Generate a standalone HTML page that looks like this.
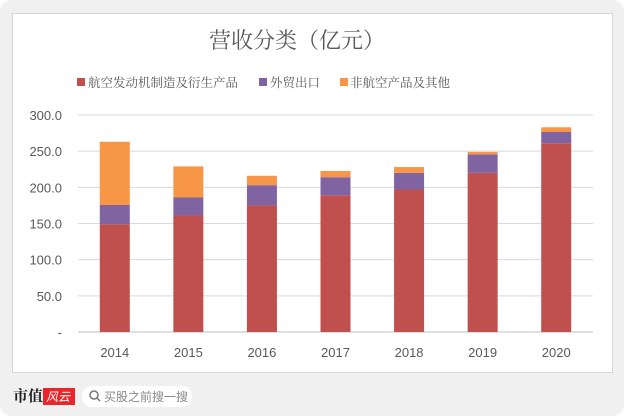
<!DOCTYPE html>
<html><head><meta charset="utf-8"><style>
body{margin:0;width:624px;height:416px;background:#fff;font-family:"Liberation Sans","Noto Sans CJK SC",sans-serif;overflow:hidden}
#bg{position:absolute;left:0;top:0;width:624px;height:416px;background:#f0f0f0;border-radius:12px}
#panel{position:absolute;left:12px;top:13px;width:599px;height:358px;background:#fff;border:1px solid #d6d6d6}
svg{position:absolute;left:0;top:0}
</style></head><body>
<div id="bg"></div>
<div id="panel"></div>
<svg id="chart" width="624" height="416">
<text x="297" y="48" text-anchor="middle" font-size="22" fill="#595959" font-family="'Noto Serif CJK SC',serif">营收分类（亿元）</text>
<g font-family="'Noto Serif CJK SC',serif" font-size="12.5" fill="#595959">
<rect x="77" y="78" width="8" height="8" fill="#c0504d"/>
<text x="88" y="87">航空发动机制造及衍生产品</text>
<rect x="259" y="78" width="8" height="8" fill="#8064a2"/>
<text x="270" y="87">外贸出口</text>
<rect x="340" y="78" width="8" height="8" fill="#f79646"/>
<text x="350" y="87">非航空产品及其他</text>
</g>
<g id="grid"></g><g id="bars"></g><g id="labels"></g>
<g>
<text x="13" y="401" font-size="15" font-weight="bold" fill="#222" font-family="'Noto Serif CJK SC',serif">市值</text>
<rect x="43" y="388" width="32" height="17" fill="#e8262b"/>
<text x="46" y="401" font-size="12" fill="#fff" font-style="italic">风云</text>
<rect x="82" y="386" width="110" height="21" rx="10" fill="#fff"/>
<circle cx="94" cy="395" r="4" fill="none" stroke="#777" stroke-width="1.5"/>
<line x1="97" y1="398" x2="100" y2="401" stroke="#777" stroke-width="1.5"/>
<text x="104" y="401" font-size="12" fill="#888">买股之前搜一搜</text>
</g>
</svg>
<script>
const years=["2014","2015","2016","2017","2018","2019","2020"];
const engine=[149,161,175,189,197,220,261];
const exportV=[26.6,25,28,25,23,25.6,15.5];
const other=[87.4,43,13,8.6,8,3.4,6.5];
const yTicks=[0,50,100,150,200,250,300];
const yTickLabels=["-","50.0","100.0","150.0","200.0","250.0","300.0"];
const NS="http://www.w3.org/2000/svg";
const y0=332,y1=115,xL=78,xR=593;
const yS=v=>y0-(v/300)*(y0-y1);
const step=(xR-xL)/years.length;
const xC=i=>xL+step*(i+0.5);
const bw=30;
function mk(t,a,p){const e=document.createElementNS(NS,t);for(const k in a)e.setAttribute(k,a[k]);p.appendChild(e);return e;}
const g=document.getElementById('grid'),b=document.getElementById('bars'),l=document.getElementById('labels');
yTicks.forEach((v,i)=>{
 const ln=mk('line',{x1:xL,x2:xR,y1:yS(v),y2:yS(v),stroke:i==0?'#bfbfbf':'#d9d9d9','stroke-width':1},g);
 
 
 const t=mk('text',{x:62,y:yS(v)+5,'text-anchor':'end','font-size':13,fill:'#595959'},l);
 t.textContent=yTickLabels[i];
 
 
});
const series=[[engine,'#c0504d','engine'],[exportV,'#8064a2','export'],[other,'#f79646','other']];
years.forEach((yr,i)=>{
 let base=0;
 series.forEach(([arr,c,n])=>{
  const v=arr[i];
  const r=mk('rect',{x:xC(i)-bw/2,y:yS(base+v),width:bw,height:yS(base)-yS(base+v),fill:c},b);
  
  
  base+=v;
 });
 const t=mk('text',{x:xC(i),y:357,'text-anchor':'middle','font-size':13,fill:'#595959'},l);
 t.textContent=yr;
 
 
});
</script>
</body></html>
